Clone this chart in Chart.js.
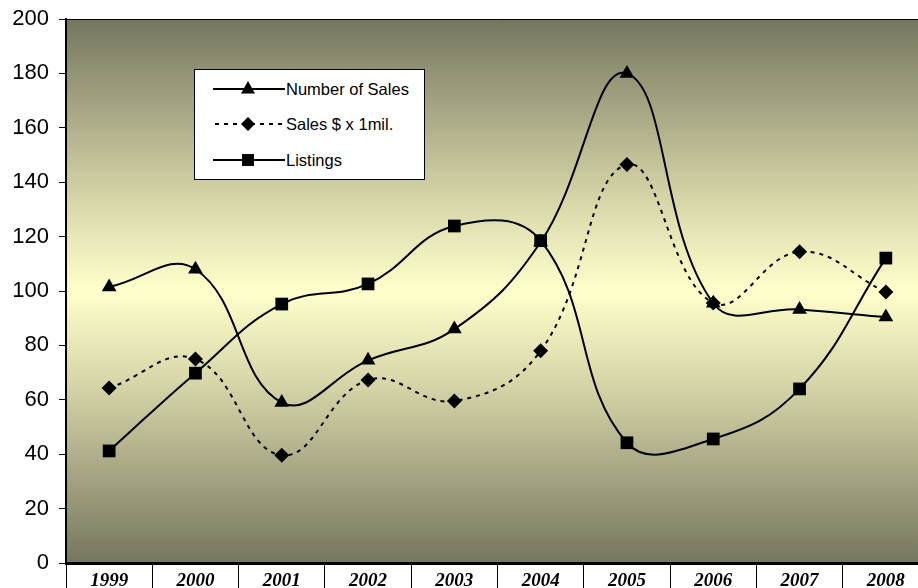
<!DOCTYPE html>
<html>
<head>
<meta charset="utf-8">
<script src="https://cdn.jsdelivr.net/npm/chart.js@4.4.0/dist/chart.umd.min.js"></script>
<style>
    html, body { margin: 0; padding: 0; background: #fff; overflow: hidden; }
    #wrap { position: relative; width: 918px; height: 588px; overflow: hidden; }
    #chart { position: absolute; left: 0; top: 0; }
    #legend {
        position: absolute; left: 194px; top: 69px; width: 229px; height: 109px;
        background: #fff; border: 1px solid #000;
        font-family: Arial, "Liberation Sans", sans-serif; font-size: 16.5px; color: #000;
    }
    .row { position: absolute; left: 18px; height: 20px; display: flex; align-items: center; white-space: nowrap; }
    .row svg { display: block; margin-right: 1px; }
</style>
</head>
<body>
<div id="wrap">
    <canvas id="chart" width="930" height="588"></canvas>
    <div id="legend">
        <div class="row" style="top:9px">
            <svg width="72" height="20"><line x1="0" y1="10" x2="72" y2="10" stroke="#000" stroke-width="2"/><polygon points="35,2 42,14.5 28,14.5" fill="#000"/></svg>
            <span>Number of Sales</span>
        </div>
        <div class="row" style="top:44px">
            <svg width="72" height="20"><line x1="2" y1="10" x2="72" y2="10" stroke="#000" stroke-width="2" stroke-dasharray="4 5"/><polygon points="35,3 42,10 35,17 28,10" fill="#000"/></svg>
            <span>Sales $ x 1mil.</span>
        </div>
        <div class="row" style="top:80px">
            <svg width="72" height="20"><line x1="0" y1="10" x2="72" y2="10" stroke="#000" stroke-width="2"/><rect x="29" y="4" width="12" height="12" fill="#000"/></svg>
            <span>Listings</span>
        </div>
    </div>
</div>
<script>
// values
const years = ['1999', '2000', '2001', '2002', '2003', '2004', '2005', '2006', '2007', '2008'];
const numberOfSales = [101.5, 108, 59, 74.5, 86, 118, 180, 95.5, 93.2, 90.4];
const salesMillions = [64.3, 75, 39.6, 67.3, 59.6, 78, 146.5, 95.6, 114.4, 99.6];
const listings = [41.2, 69.8, 95.2, 102.6, 123.9, 118.5, 44.2, 45.6, 64, 112.1];
const yTicks = [0, 20, 40, 60, 80, 100, 120, 140, 160, 180, 200];

// olive / pale yellow band behind the plot
const plotBackground = {
    id: 'plotBackground',
    beforeDraw(chart) {
        const { ctx, chartArea: a } = chart;
        const g = ctx.createLinearGradient(0, a.top, 0, a.bottom);
        g.addColorStop(0, '#76765f');
        g.addColorStop(0.33, '#d6d5a8');
        g.addColorStop(0.5, '#ffffcc');
        g.addColorStop(0.67, '#d6d5a8');
        g.addColorStop(1, '#76765f');
        ctx.save();
        ctx.fillStyle = g;
        ctx.fillRect(a.left, a.top, a.right - a.left, a.bottom - a.top);
        ctx.strokeStyle = '#000';
        ctx.lineWidth = 1;
        ctx.beginPath();
        ctx.moveTo(a.left, a.top + 0.5);
        ctx.lineTo(a.right, a.top + 0.5);
        ctx.stroke();
        ctx.restore();
    }
};

const common = {
    borderColor: '#000',
    backgroundColor: '#000',
    pointBackgroundColor: '#000',
    pointBorderColor: '#000',
    pointBorderWidth: 0,
    borderWidth: 2,
    tension: 0.42,
    fill: false
};

new Chart(document.getElementById('chart').getContext('2d'), {
    type: 'line',
    data: {
        labels: years,
        datasets: [
            Object.assign({}, common, { label: 'Number of Sales', data: numberOfSales, pointStyle: 'triangle', pointRadius: 8.5 }),
            Object.assign({}, common, { label: 'Sales $ x 1mil.', data: salesMillions, pointStyle: 'rectRot', pointRadius: 7.5, borderDash: [4, 5] }),
            Object.assign({}, common, { label: 'Listings', data: listings, pointStyle: 'rect', pointRadius: 9 })
        ]
    },
    options: {
        responsive: false,
        animation: false,
        events: [],
        layout: { autoPadding: false, padding: { top: 19, right: 1, left: 0, bottom: 0 } },
        plugins: {
            legend: { display: false },
            tooltip: { enabled: false }
        },
        scales: {
            x: {
                type: 'category',
                offset: true,
                grid: { offset: true, drawOnChartArea: false, tickLength: 25, color: '#000', lineWidth: 1 },
                border: { display: true, color: '#000', width: 3 },
                ticks: {
                    color: '#000',
                    autoSkip: false,
                    maxRotation: 0,
                    padding: -18,
                    font: { family: '"Liberation Serif", "Times New Roman", serif', size: 19, weight: 'bold', style: 'italic' }
                },
                afterFit(scale) {
                    scale.height = 25;
                    scale.paddingLeft = 0;
                    scale.paddingRight = 0;
                }
            },
            y: {
                min: 0,
                max: 200,
                afterBuildTicks(scale) { scale.ticks = yTicks.map(v => ({ value: v })); },
                grid: { drawOnChartArea: false, tickLength: 7, color: '#000', lineWidth: 1 },
                border: { display: true, color: '#000', width: 2 },
                ticks: {
                    color: '#000',
                    padding: 10,
                    font: { family: 'Arial, "Liberation Sans", sans-serif', size: 22 }
                },
                afterFit(scale) {
                    scale.width = 66;
                    scale.paddingTop = 0;
                    scale.paddingBottom = 0;
                }
            }
        }
    },
    plugins: [plotBackground]
});
</script>
</body>
</html>
